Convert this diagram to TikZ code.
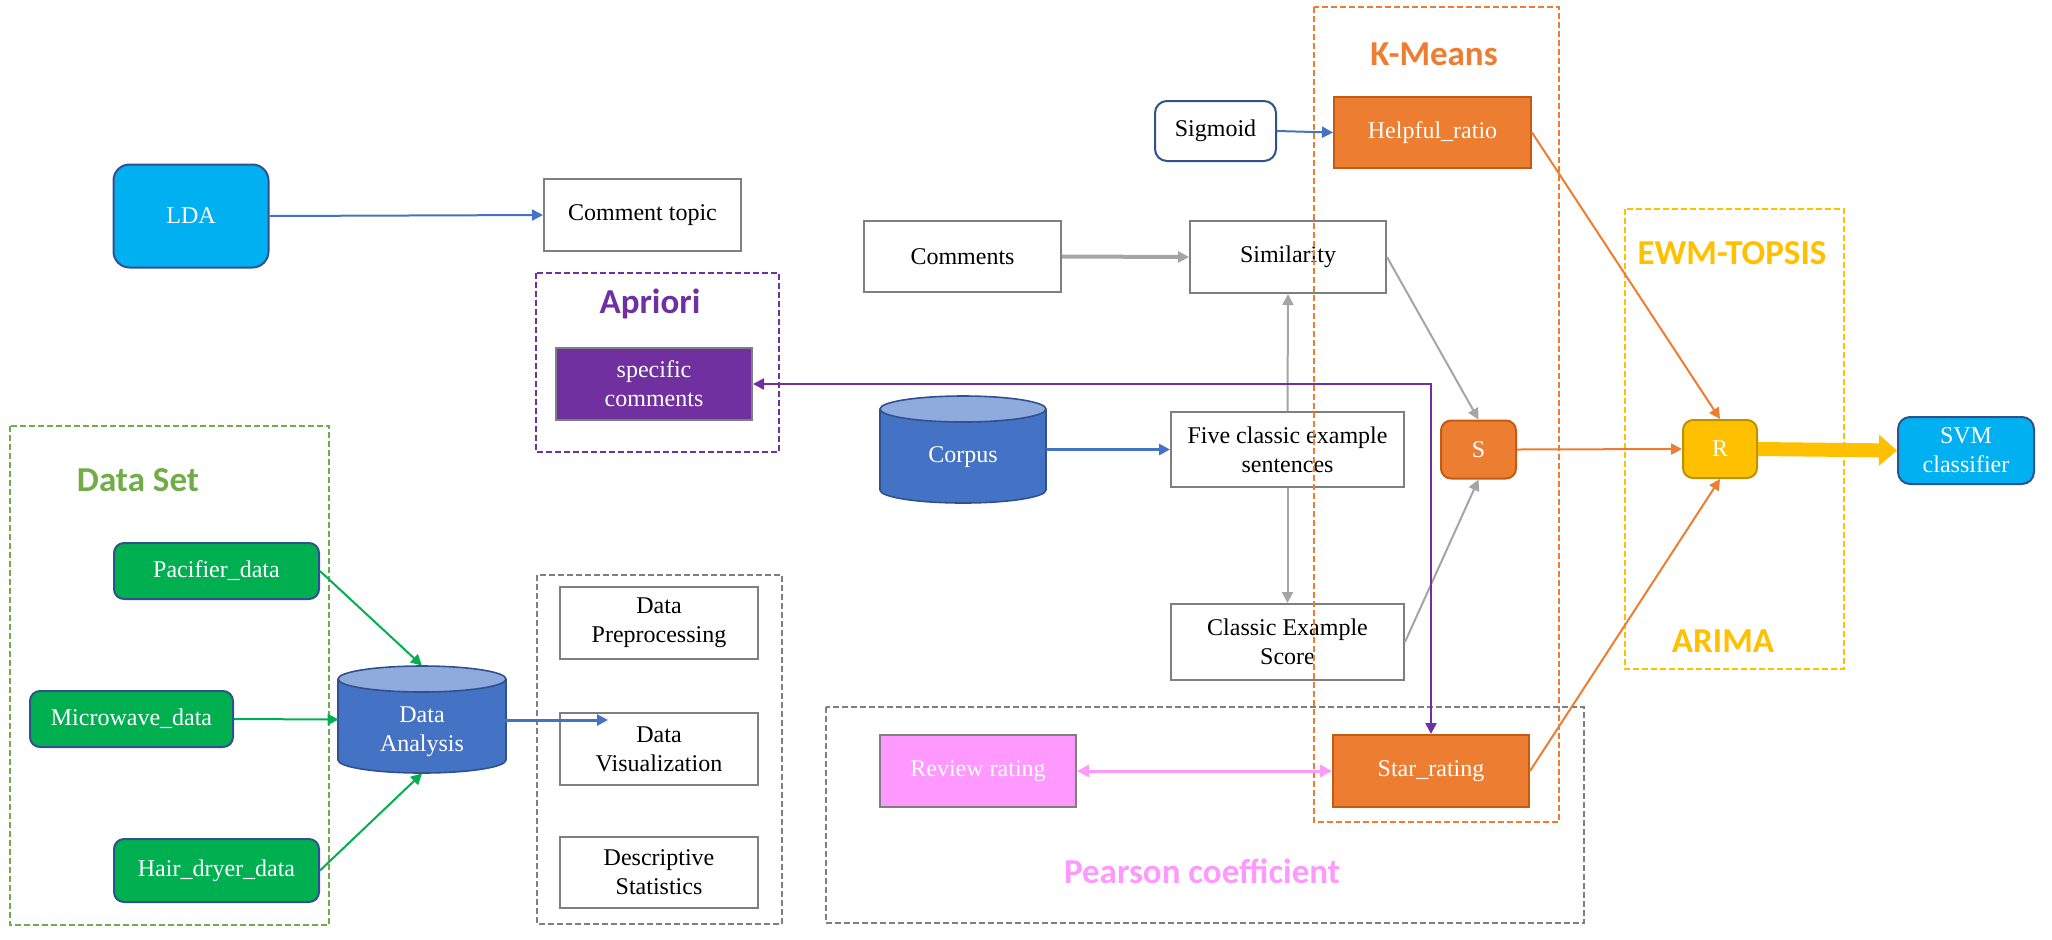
\documentclass[tikz,border=0pt]{standalone}
\usepackage{fontspec}
\setmainfont{Liberation Serif}
\newfontfamily\titlefont{Carlito}
\usetikzlibrary{arrows.meta}
\definecolor{cblue}{HTML}{4472C4}
\definecolor{cdkblue}{HTML}{2F528F}
\definecolor{ccyan}{HTML}{00B0F0}
\definecolor{cgreen}{HTML}{00B050}
\definecolor{cltgreen}{HTML}{70AD47}
\definecolor{cgray}{HTML}{A5A5A5}
\definecolor{cbord}{HTML}{7F7F7F}
\definecolor{corange}{HTML}{ED7D31}
\definecolor{cdkorange}{HTML}{C55A11}
\definecolor{cpurple}{HTML}{7030A0}
\definecolor{cpink}{HTML}{FF99FF}
\definecolor{cyellow}{HTML}{FFC000}
\definecolor{cdkyellow}{HTML}{BF9000}
\definecolor{ctop}{HTML}{8FAADC}
\tikzset{
  txt/.style={font=\fontsize{12}{14.5}\selectfont, align=center, inner sep=0pt},
  wbox/.style={txt, draw=cbord, line width=1pt, fill=white},
  obox/.style={txt, draw=cdkorange, line width=1pt, fill=corange, text=white},
  gbox/.style={txt, draw=cdkblue, line width=1pt, fill=cgreen, text=white, rounded corners=5pt},
  frame/.style={dash pattern=on 3pt off 1.5pt, line width=0.8pt},
  ttl/.style={font=\titlefont\bfseries\fontsize{17.5}{20}\selectfont, inner sep=0pt},
  thin/.style={line width=1pt, -{Triangle[length=5.5pt,width=5.5pt]}},
  cylnode/.style={txt, text=white, minimum width=83pt, minimum height=53.5pt},
}
\begin{document}
\begin{tikzpicture}[x=0.5pt,y=-0.5pt]
\useasboundingbox (0,0) rectangle (2052,939);

% cylinders
\path[fill=cblue, draw=cdkblue, line width=0.8pt] (422,760) ellipse [x radius=42pt, y radius=6.5pt];
\fill[cblue] (338,679) rectangle (506,760);
\draw[cdkblue, line width=0.8pt] (338,679) -- (338,760) (506,679) -- (506,760);
\path[fill=ctop, draw=cdkblue, line width=0.8pt] (422,679) ellipse [x radius=42pt, y radius=6.5pt];
\node[cylnode, label={[txt, text=white, yshift=-6.25pt]center:Data\\Analysis}] (da) at (422,719.5) {};

\path[fill=cblue, draw=cdkblue, line width=0.8pt] (963,490) ellipse [x radius=41.5pt, y radius=6.5pt];
\fill[cblue] (880,409) rectangle (1046,490);
\draw[cdkblue, line width=0.8pt] (880,409) -- (880,490) (1046,409) -- (1046,490);
\path[fill=ctop, draw=cdkblue, line width=0.8pt] (963,409) ellipse [x radius=41.5pt, y radius=6.5pt];
\node[cylnode, label={[txt, text=white, yshift=-3.75pt]center:Corpus}] (corpus) at (963,449.5) {};

% nodes
\node[txt, draw=cdkblue, line width=1pt, fill=ccyan, text=white, rounded corners=8pt, minimum width=77.5pt, minimum height=51.5pt] (lda) at (191,216) {LDA};
\node[wbox, minimum width=98.5pt, minimum height=36pt] (ctopic) at (642.5,215) {Comment topic};
\node[txt, draw=cbord, line width=1pt, fill=cpurple, text=white, minimum width=98pt, minimum height=36pt] (spec) at (654,384) {specific\\comments};
\node[gbox, minimum width=102.5pt, minimum height=28pt] (pac) at (216.5,571) {Pacifier\_data};
\node[gbox, minimum width=101.5pt, minimum height=28pt] (mic) at (131.5,719) {Microwave\_data};
\node[gbox, minimum width=102.5pt, minimum height=31.5pt] (hair) at (216.5,870.5) {Hair\_dryer\_data};
\node[wbox, minimum width=99pt, minimum height=36pt] (prep) at (659,623) {Data\\Preprocessing};
\node[wbox, minimum width=99pt, minimum height=36pt] (vis) at (659,749) {Data\\Visualization};
\node[wbox, minimum width=99pt, minimum height=35.5pt] (desc) at (659,872.5) {Descriptive\\Statistics};
\node[wbox, minimum width=98.5pt, minimum height=35.5pt] (comm) at (962.5,256.5) {Comments};
\node[wbox, minimum width=98pt, minimum height=36pt] (sim) at (1288,257) {Similarity};
\node[txt, draw=cdkblue, line width=1pt, fill=white, rounded corners=6pt, minimum width=60.5pt, minimum height=30pt] (sig) at (1215.5,131) {Sigmoid};
\node[obox, minimum width=98.5pt, minimum height=35.5pt] (help) at (1432.5,132.5) {Helpful\_ratio};
\node[wbox, minimum width=116.5pt, minimum height=37.5pt] (five) at (1287.5,449.5) {Five classic example\\sentences};
\node[wbox, minimum width=116.5pt, minimum height=38pt] (ces) at (1287.5,642) {Classic Example\\Score};
\node[obox, rounded corners=5pt, minimum width=37.5pt, minimum height=29pt] (S) at (1478.5,449.5) {S};
\node[txt, draw=cdkyellow, line width=1pt, fill=cyellow, text=white, rounded corners=5pt, minimum width=37pt, minimum height=29pt] (R) at (1720,449) {R};
\node[txt, draw=cdkblue, line width=1pt, fill=ccyan, text=white, rounded corners=6pt, minimum width=68pt, minimum height=33.5pt] (svm) at (1966,450.5) {SVM\\classifier};
\node[txt, draw=cbord, line width=1pt, fill=cpink, text=white, minimum width=98pt, minimum height=36pt] (rev) at (978,771) {Review rating};
\node[obox, minimum width=98pt, minimum height=36pt] (star) at (1431,771) {Star\_rating};

% frames
\draw[frame, cpurple] (536,273) rectangle (779,452);
\draw[frame, cltgreen] (10,426) rectangle (329,925);
\draw[frame, cbord] (537,575) rectangle (782,924);
\draw[frame, corange] (1314,7) rectangle (1559,822);
\draw[frame, cyellow] (1625,209) rectangle (1844,669);
\draw[frame, cbord] (826,707) rectangle (1584,923);

% titles
\node[ttl, text=cpurple] (tapr) at (650,304) {Apriori};
\node[ttl, text=cltgreen] (tds) at (138,480) {Data Set};
\node[ttl, text=corange] (tkm) at (1434,54) {K-Means};
\node[ttl, text=cyellow] (tewm) at (1732,253) {EWM-TOPSIS};
\node[ttl, text=cyellow] (tar) at (1723,641) {ARIMA};
\node[ttl, text=cpink] (tpc) at (1202,871) {Pearson coefficient};

% connectors
\coordinate (vtip) at (608,720);
\draw[thin, cblue] (lda.east) -- (ctopic.west);
\draw[thin, cgreen] (pac.east) -- (da.north);
\draw[thin, cgreen] (mic.east) -- (da.west);
\draw[thin, cgreen] (hair.east) -- (da.south);
\draw[thin, cblue, line width=1.5pt] (da.east |- vtip) -- (vtip);
\draw[thin, cgray, line width=2pt] (comm.east) -- (sim.west);
\draw[thin, cblue] (sig.east) -- (help.west);
\draw[thin, cblue, line width=1.5pt] (corpus.east) -- (five.west);
\draw[thin, cgray] (five.north) -- (sim.south);
\draw[thin, cgray] (five.south) -- (ces.north);
\draw[thin, cgray] (sim.east) -- (S.north);
\draw[thin, cgray] (ces.east) -- (S.south);
\draw[cpurple, line width=1.2pt, {Triangle[length=5.5pt,width=5.5pt]}-{Triangle[length=5.5pt,width=5.5pt]}] (spec.east) -- (star.north |- spec.east) -- (star.north);
\draw[thin, corange] (help.east) -- (R.north);
\draw[thin, corange] (S.east) -- (R.west);
\draw[thin, corange] (star.east) -- (R.south);
\draw[cyellow, line width=7pt, -{Triangle[length=9pt,width=15pt]}] (R.east) -- (svm.west);
\draw[cpink, line width=1.5pt, {Triangle[length=6pt,width=6pt]}-{Triangle[length=6pt,width=6pt]}] (rev.east) -- (star.west);
\end{tikzpicture}
\end{document}
